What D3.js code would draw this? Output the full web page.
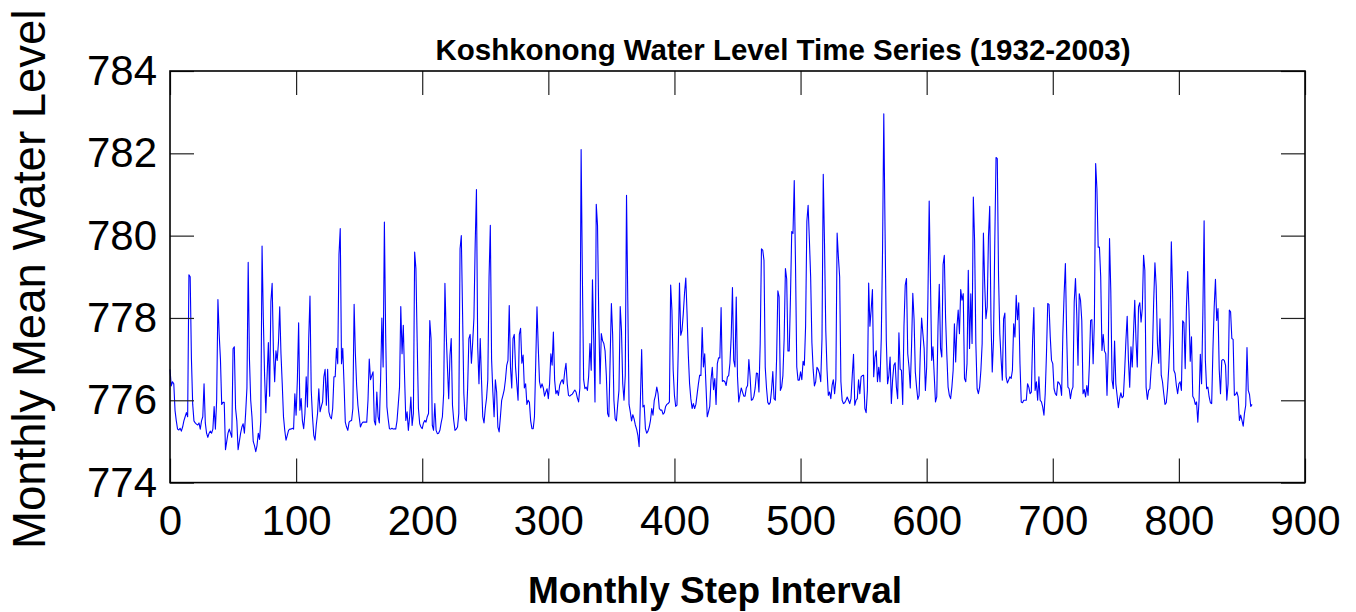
<!DOCTYPE html>
<html>
<head>
<meta charset="utf-8">
<script src="https://cdn.jsdelivr.net/npm/d3@7/dist/d3.min.js"></script>
<style>
  html, body { margin: 0; padding: 0; background: #fff; }
  svg { display: block; }
  text { font-family: "Liberation Sans", Arial, Helvetica, sans-serif; fill: #000; }
</style>
</head>
<body>
<svg id="chart" width="1356" height="612"></svg>
<script>
// ---- DATA (monthly mean water level, ft; index = monthly step) ----
const waterLevel = [
776.75,776.35,776.45,776.4,775.75,775.5,775.3,775.28,775.32,775.25,
775.35,775.5,775.6,775.7,775.6,779.05,779.0,777.0,775.9,775.5,
775.45,775.42,775.4,775.45,775.3,775.5,775.6,776.4,775.45,775.2,
775.1,775.2,775.25,775.2,775.3,775.85,775.3,776.0,778.45,777.6,
777.0,775.9,775.95,775.95,774.8,775.0,775.2,775.3,775.2,775.1,
777.25,777.3,775.8,775.5,774.8,775.0,775.2,775.35,775.43,775.2,
775.7,776.3,779.35,777.0,776.0,775.6,775.0,774.9,774.75,774.9,
775.2,775.05,775.5,779.75,778.0,776.6,775.7,776.6,777.4,776.1,
778.4,778.84,777.2,776.45,777.2,776.97,777.4,778.27,777.13,776.4,
775.6,775.27,775.03,775.15,775.27,775.3,775.3,775.32,775.3,776.16,
775.64,776.5,777.88,775.76,776.04,775.5,775.31,775.68,776.57,775.84,
777.5,778.53,776.24,775.6,775.15,775.03,775.4,775.68,776.28,775.72,
775.85,775.96,776.57,776.75,775.88,776.75,775.72,775.6,775.55,775.8,
776.57,776.57,777.26,776.89,779.55,780.17,776.89,777.26,776.4,775.47,
775.35,775.27,775.47,775.5,775.51,775.8,778.33,777.13,776.36,775.88,
775.6,775.35,775.43,775.47,775.47,775.47,775.47,776.0,777.0,776.5,
776.6,776.69,775.5,775.4,776.2,775.6,775.45,776.5,778.0,776.81,
780.33,777.62,775.84,775.55,775.31,775.3,775.32,775.3,775.31,775.3,
775.5,775.9,776.32,778.28,777.13,777.82,776.57,775.51,775.72,775.27,
775.6,776.08,775.39,775.68,779.6,779.2,777.42,775.8,775.43,775.35,
775.31,775.45,775.51,775.47,775.6,775.68,777.94,777.5,775.39,775.27,
775.92,775.27,775.19,775.2,775.27,775.45,775.6,776.16,778.84,777.62,
776.8,776.04,777.09,777.5,775.88,775.51,775.27,775.3,775.35,775.68,
779.68,780.0,778.11,776.16,775.55,775.5,776.3,777.5,777.6,776.9,
777.4,778.0,779.8,781.12,777.3,776.4,777.5,776.5,775.6,775.45,
775.8,776.05,776.5,779.0,780.25,777.0,776.2,775.6,776.5,776.2,
775.35,775.23,775.6,776.0,776.12,776.25,776.5,776.85,776.97,778.3,
776.8,776.3,777.5,777.6,776.8,776.4,776.0,777.6,777.75,776.9,
777.1,776.3,776.4,775.9,776.0,775.95,775.5,775.31,775.31,775.6,
776.9,778.27,777.3,776.45,776.3,776.4,776.3,776.1,776.2,776.28,
776.04,776.4,777.13,776.85,777.66,776.49,776.16,776.24,776.12,776.36,
776.45,776.5,776.4,776.7,776.9,776.4,776.12,776.1,776.13,776.15,
776.2,776.25,776.2,776.06,775.96,776.3,782.09,779.0,776.5,776.28,
776.32,776.24,776.6,777.38,776.73,778.93,777.5,775.96,780.76,780.25,
778.0,776.4,777.62,777.45,777.38,777.2,776.6,775.68,775.6,777.0,
778.35,777.6,776.0,775.55,775.5,775.9,776.24,778.28,777.7,776.4,
776.0,776.6,780.98,778.43,775.9,775.72,775.5,775.65,775.55,775.4,
775.3,775.15,774.87,776.0,777.23,775.84,775.88,775.31,775.2,775.25,
775.35,775.51,775.8,775.64,776.0,776.12,776.32,776.16,775.8,775.76,
775.76,775.66,775.7,775.85,775.9,775.92,775.96,778.8,778.19,776.73,
776.12,775.85,775.88,777.2,778.85,777.58,777.7,778.1,778.6,778.97,
778.11,777.1,776.4,776.04,775.8,775.92,775.8,775.9,776.15,776.4,
776.61,776.6,777.77,776.81,777.13,776.36,775.6,775.72,775.85,776.5,
776.8,776.26,776.53,775.9,776.89,777.03,777.03,778.25,776.46,776.48,
776.45,776.36,776.57,776.6,776.9,777.54,778.74,776.97,776.81,778.51,
776.57,775.96,776.14,776.3,776.2,776.1,776.1,776.3,776.36,776.99,
776.57,776.0,776.02,776.1,776.3,776.66,776.65,776.2,777.38,779.68,
779.65,779.4,776.8,776.3,775.95,775.9,775.95,776.25,776.7,776.04,
776.0,777.0,778.66,778.51,776.24,776.32,776.6,777.5,779.2,778.95,
777.2,777.2,778.5,780.1,780.05,781.34,779.3,776.81,776.49,776.49,
776.69,776.5,776.95,776.85,777.8,780.35,780.74,779.9,779.0,777.4,
776.75,776.35,776.45,776.8,776.75,776.65,776.45,777.5,781.49,779.8,
777.7,776.73,776.12,776.2,776.04,776.36,776.5,776.16,776.5,780.06,
779.48,779.0,776.45,776.0,775.92,775.94,776.0,776.08,776.0,775.92,
776.04,776.6,777.12,775.88,776.0,776.04,776.5,776.16,776.57,776.6,
776.61,775.8,775.7,776.24,778.85,777.8,778.2,778.69,776.57,777.05,
777.2,776.45,776.8,776.45,777.5,779.6,782.96,780.13,777.46,776.4,
776.6,777.05,775.92,776.5,776.85,776.91,776.32,776.04,777.64,776.75,
776.73,775.9,777.8,778.8,778.96,777.13,776.81,776.3,777.3,778.6,
777.98,776.69,776.32,776.02,776.12,777.2,778.0,777.62,777.26,776.24,
776.81,778.5,780.84,778.91,776.97,777.3,776.6,775.96,776.08,777.8,
778.82,777.26,777.05,779.3,779.52,778.0,777.1,776.32,776.12,776.04,
776.32,776.73,777.86,776.93,777.78,778.19,777.62,778.69,778.43,778.59,
776.53,776.45,776.89,779.16,777.26,778.59,777.38,780.94,779.89,777.38,
776.28,776.16,776.32,776.73,777.38,780.06,778.83,777.98,778.27,779.97,
780.71,777.94,776.69,777.46,779.81,781.9,781.87,779.0,777.62,777.01,
776.49,777.98,778.12,776.57,776.42,776.49,776.57,776.53,776.73,777.86,
777.54,778.55,777.96,778.37,776.89,775.96,775.94,776.0,776.0,776.0,
776.4,776.32,776.16,776.2,777.46,778.25,776.24,776.45,776.0,776.57,
776.0,775.96,775.84,775.64,776.16,777.13,778.35,778.33,777.54,776.97,
776.89,776.28,776.16,776.12,776.45,776.42,776.36,776.12,777.62,778.59,
779.32,777.62,776.32,776.28,776.04,776.24,776.32,778.39,778.96,778.11,
776.85,778.59,778.43,777.94,776.16,776.26,776.08,776.36,776.12,776.85,
777.94,777.96,776.89,777.94,781.75,781.14,779.72,779.72,779.0,777.21,
777.6,777.2,777.13,776.12,777.21,779.93,778.67,776.49,776.28,777.44,
776.4,776.12,775.82,776.04,776.18,776.06,776.1,776.71,777.46,778.04,
776.97,776.32,777.3,776.81,777.62,778.43,777.46,776.81,778.27,778.37,
777.9,778.23,779.52,779.16,776.32,776.02,776.24,776.28,776.77,777.13,
778.39,779.34,778.77,777.38,776.9,777.98,776.61,776.45,776.16,775.9,
775.94,776.28,776.81,777.62,779.85,778.63,776.73,776.65,776.36,776.16,
776.4,776.45,776.24,777.93,777.88,776.77,778.27,779.13,778.19,776.95,
777.54,776.1,776.04,775.9,775.96,775.47,776.0,777.12,776.4,778.11,
780.36,776.97,776.28,776.32,776.08,775.94,775.92,777.24,778.27,778.94,
777.94,778.23,776.73,776.16,776.97,776.99,776.97,776.85,776.0,776.4,
778.19,778.15,777.5,777.48,776.12,776.14,776.2,776.08,775.51,775.64,
775.51,775.37,775.68,775.88,777.28,776.24,776.14,775.85,775.9
];
const xTicks = [0, 100, 200, 300, 400, 500, 600, 700, 800, 900];
const yTicks = [774, 776, 778, 780, 782, 784];
const xDomain = [0, 900];
const yDomain = [774, 784];
const titleText = "Koshkonong Water Level Time Series (1932-2003)";
const xLabelText = "Monthly Step Interval";
const yLabelText = "Monthly Mean Water Level";

// ---- LAYOUT ----
const svg = d3.select("#chart");
const L = 170, R = 1305, T = 71, B = 482.6;

const x = d3.scaleLinear().domain(xDomain).range([L, R]);
const y = d3.scaleLinear().domain(yDomain).range([B, T]);

svg.append("rect").attr("width", 1356).attr("height", 612).attr("fill", "#fff");

// data line
const line = d3.line().x((d, i) => x(i)).y(d => y(d));
svg.append("path")
  .datum(waterLevel)
  .attr("d", line)
  .attr("fill", "none")
  .attr("stroke", "#0000ff")
  .attr("stroke-width", 1.1)
  .attr("stroke-linejoin", "round");

const tickLen = 24;
function styleAxis(g, showText) {
  g.select(".domain").remove();
  g.selectAll(".tick line").attr("stroke", "#222").attr("stroke-width", 1.2);
  g.selectAll(".tick text")
    .style("font-family", '"Liberation Sans", Arial, sans-serif')
    .style("font-size", "42px")
    .attr("fill", "#000");
  if (!showText) g.selectAll(".tick text").remove();
}

svg.append("g").attr("transform", `translate(0,${B})`)
  .call(d3.axisBottom(x).tickValues(xTicks).tickFormat(d3.format("d"))
    .tickSizeInner(-tickLen).tickSizeOuter(0).tickPadding(23))
  .call(g => styleAxis(g, true));

svg.append("g").attr("transform", `translate(0,${T})`)
  .call(d3.axisTop(x).tickValues(xTicks).tickSizeInner(-tickLen).tickSizeOuter(0))
  .call(g => styleAxis(g, false));

svg.append("g").attr("transform", `translate(${L},0)`)
  .call(d3.axisLeft(y).tickValues(yTicks).tickFormat(d3.format("d"))
    .tickSizeInner(-tickLen).tickSizeOuter(0).tickPadding(13))
  .call(g => styleAxis(g, true));

svg.append("g").attr("transform", `translate(${R},0)`)
  .call(d3.axisRight(y).tickValues(yTicks).tickSizeInner(-tickLen).tickSizeOuter(0))
  .call(g => styleAxis(g, false));

// frame
svg.append("rect")
  .attr("x", L).attr("y", T).attr("width", R - L).attr("height", B - T)
  .attr("fill", "none").attr("stroke", "#000").attr("stroke-width", 1.6);

// title
svg.append("text")
  .attr("x", 783).attr("y", 60)
  .attr("text-anchor", "middle")
  .style("font-size", "29.5px").style("font-weight", "bold")
  .text(titleText);

// x label
svg.append("text")
  .attr("x", 715).attr("y", 603)
  .attr("text-anchor", "middle")
  .style("font-size", "37px").style("font-weight", "bold")
  .text(xLabelText);

// y label
svg.append("text")
  .attr("transform", "translate(45,549) rotate(-90)")
  .attr("text-anchor", "start")
  .style("font-size", "45.5px")
  .text(yLabelText);
</script>
</body>
</html>
